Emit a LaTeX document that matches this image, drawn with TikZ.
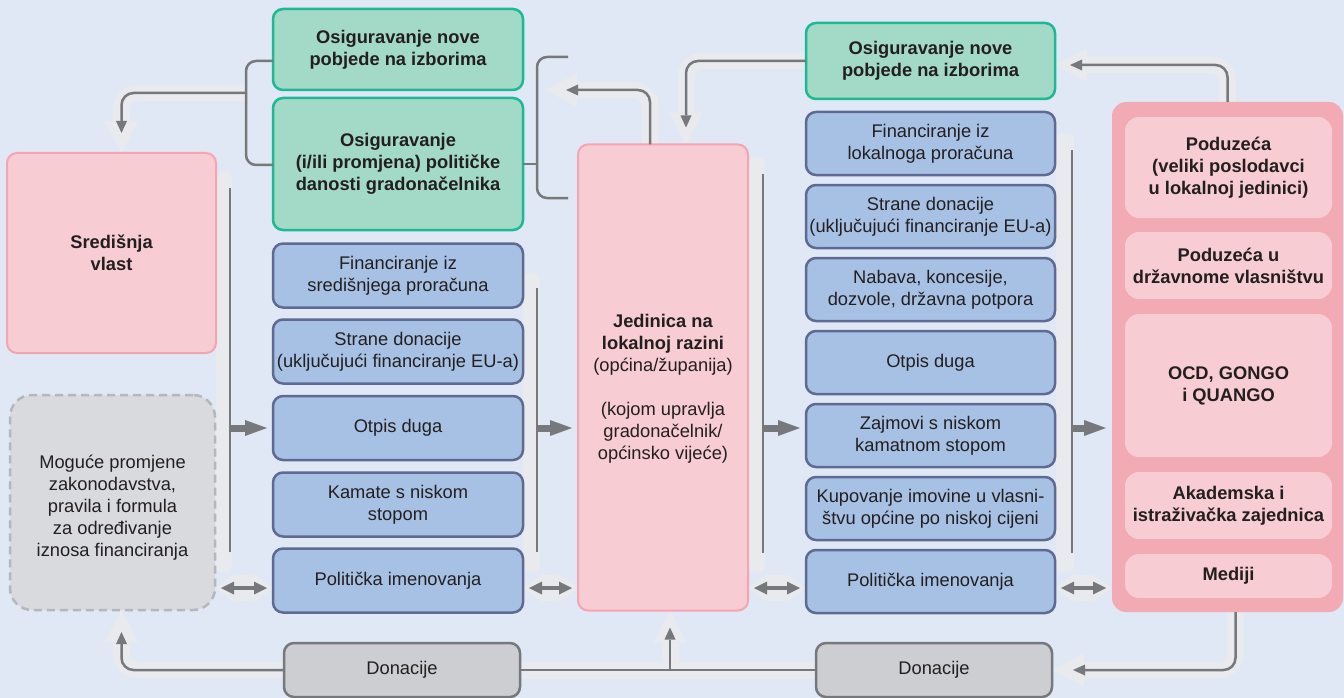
\documentclass[tikz,border=0pt]{standalone}
\usepackage{fontspec}
\setmainfont{Liberation Sans}
\usetikzlibrary{arrows.meta,calc,backgrounds}
\definecolor{bgc}{HTML}{DFE8F4}
\definecolor{haloc}{HTML}{E9EAED}
\definecolor{darkc}{HTML}{77787B}
\definecolor{greenf}{HTML}{A3D9C7}
\definecolor{greend}{HTML}{1DB894}
\definecolor{bluef}{HTML}{A7C1E4}
\definecolor{blued}{HTML}{5F6A93}
\definecolor{pinkf}{HTML}{F7CCD3}
\definecolor{pinkd}{HTML}{F4A5B1}
\definecolor{graybf}{HTML}{D9DADE}
\definecolor{graybd}{HTML}{B4B7BD}
\definecolor{donf}{HTML}{CDCED2}
\definecolor{contf}{HTML}{F2AAB5}
\definecolor{txt}{HTML}{231F20}
\begin{document}
\begin{tikzpicture}[x=1pt,y=-1pt,
  every node/.style={font=\fontsize{18.3}{22}\selectfont, text=txt, align=center,
    inner sep=0pt, outer sep=0pt},
  boldtext/.style={font=\fontsize{18.3}{22}\selectfont\bfseries},
  box/.style={rectangle, rounded corners=10pt, line width=2.5pt},
  greenbox/.style={box, boldtext, fill=greenf, draw=greend, minimum width=250pt},
  bluebox/.style={box, fill=bluef, draw=blued, minimum width=250pt, minimum height=64pt},
  blueboxd/.style={box, fill=bluef, draw=blued, minimum width=249pt, minimum height=63pt},
  pinkbox/.style={box, fill=pinkf, draw=pinkd, line width=2pt},
  dashbox/.style={box, rounded corners=22pt, fill=graybf, draw=graybd,
    dash pattern=on 8pt off 5pt},
  donbox/.style={box, fill=donf, draw=darkc, minimum width=236pt, minimum height=54pt},
  contbox/.style={rectangle, rounded corners=14pt, fill=contf},
  innerbox/.style={rectangle, rounded corners=14pt, fill=pinkf, boldtext, minimum width=207pt},
  conn/.style={draw=darkc, line width=2.5pt, rounded corners=12pt},
  connarrow/.style={conn, -{Triangle[length=12pt,width=11pt,line width=0pt]}},
  halo/.style={draw=haloc, line width=17pt, rounded corners=16pt},
  haloarrow/.style={halo, -{Triangle[length=32pt,width=34pt,line width=0pt]}},
  bigarrow/.style={draw=darkc, line width=7pt, shorten >=6pt,
    -{Triangle[length=22pt,width=16pt,line width=0pt]}},
  dblarrow/.style={draw=darkc, line width=4pt, shorten <=6pt, shorten >=6pt,
    {Triangle[length=13pt,width=13pt,line width=0pt]}-{Triangle[length=13pt,width=13pt,line width=0pt]}},
  dblhalo/.style={draw=haloc, line width=26pt,
    {Triangle[length=19pt,width=28pt,line width=0pt]}-{Triangle[length=19pt,width=28pt,line width=0pt]}},
  flowbar/.style={fill=haloc, rounded corners=6pt},
  flowline/.style={draw=darkc, line width=2.5pt}
]
\useasboundingbox (0,0) rectangle (1344,698);

% ---- nodes ----
\node[pinkbox, boldtext, minimum width=209pt, minimum height=200pt] (sred) at (111.5,253) {Središnja\\vlast};
\node[dashbox, minimum width=205pt, minimum height=215pt] (dash) at (112.5,502.5) {};
\node (dashtxt) at ($(dash.center)+(0,5)$)
  {Moguće promjene\\zakonodavstva,\\pravila i formula\\za određivanje\\iznosa financiranja};

\node[greenbox, minimum height=81pt] (g1) at (398,49.5) {Osiguravanje nove\\pobjede na izborima};
\node[greenbox, minimum height=132pt] (g2) at (398,164) {Osiguravanje\\(i/ili promjena) političke\\danosti gradonačelnika};
\node[bluebox] (b1) at (398,275.5) {Financiranje iz\\središnjega proračuna};
\node[bluebox] (b2) at (398,351.5) {Strane donacije\\(uključujući financiranje EU-a)};
\node[bluebox] (b3) at (398,428) {Otpis duga};
\node[bluebox] (b4) at (398,504.5) {Kamate s niskom\\stopom};
\node[bluebox] (b5) at (398,580.5) {Politička imenovanja};

\node[pinkbox, minimum width=170pt, minimum height=466pt] (jed) at (663,377.5) {};
\node (jedtxt) at ($(jed.center)+(0,11)$)
  {\textbf{Jedinica na}\\\textbf{lokalnoj razini}\\(općina/županija)\\[22pt](kojom upravlja\\gradonačelnik/\\općinsko vijeće)};

\node[greenbox, minimum width=249pt, minimum height=76pt] (gD) at (930.5,61) {Osiguravanje nove\\pobjede na izborima};
\node[blueboxd] (d1) at (930.5,143.5) {Financiranje iz\\lokalnoga proračuna};
\node[blueboxd] (d2) at (930.5,216.5) {Strane donacije\\(uključujući financiranje EU-a)};
\node[blueboxd] (d3) at (930.5,289.5) {Nabava, koncesije,\\dozvole, državna potpora};
\node[blueboxd] (d4) at (930.5,362.5) {Otpis duga};
\node[blueboxd] (d5) at (930.5,435.5) {Zajmovi s niskom\\kamatnom stopom};
\node[blueboxd] (d6) at (930.5,508.5) {Kupovanje imovine u vlasni-\\štvu općine po niskoj cijeni};
\node[blueboxd] (d7) at (930.5,581.5) {Politička imenovanja};

\node[contbox, minimum width=231pt, minimum height=510pt] (cont) at (1227.5,357) {};
\node[innerbox, minimum height=101pt] (p1) at (1228.5,167.5) {Poduzeća\\(veliki poslodavci\\u lokalnoj jedinici)};
\node[innerbox, minimum height=67pt] (p2) at (1228.5,265.5) {Poduzeća u\\državnome vlasništvu};
\node[innerbox, minimum height=143pt] (p3) at (1228.5,385.5) {OCD, GONGO\\i QUANGO};
\node[innerbox, minimum height=67pt] (p4) at (1228.5,505.5) {Akademska i\\istraživačka zajednica};
\node[innerbox, minimum height=44pt] (p5) at (1228.5,576) {Mediji};

\node[donbox] (don1) at (402,670) {Donacije};
\node[donbox] (don2) at (934,670) {Donacije};

% ---- helper coordinates ----
\coordinate (lineA) at (230,0);
\coordinate (lineB) at (537,0);
\coordinate (lineC) at (763,0);
\coordinate (lineD) at (1072,0);
\coordinate (brLx) at (246,0);
\coordinate (brRx) at (537,0);
\coordinate (dy) at (0,588);
\coordinate (brLsplit) at (246,93);
\coordinate (brRtip) at (545,90);
\coordinate (jedTopL) at ($(jed.north)+(-13,0)$);
\coordinate (jedTopR) at ($(jed.north)+(23,0)$);
\coordinate (jedBot) at ($(jed.south)+(7,0)$);
\coordinate (sredTop) at ($(sred.north)+(10,0)$);
\coordinate (dashBot) at ($(dash.south)+(9,0)$);
\coordinate (contBot) at ($(cont.south)+(8,0)$);
\coordinate (gDin) at ($(gD.east)+(0,4)$);

% ---- light bands under the connectors ----
\begin{pgfonlayer}{background}
  \fill[bgc] (0,0) rectangle (1344,698);
  \path[flowbar] (216,172) rectangle (232,572);
  \path[flowbar] (523,273) rectangle (540,572);
  \path[flowbar] (749,157) rectangle (765,572);
  \path[flowbar] (1056,133) rectangle (1074,572);

  \draw[haloarrow] (brLsplit) -| (sredTop);
  \draw[haloarrow] (jedTopL) |- (brRtip);
  \draw[haloarrow] (gD.west) -| (jedTopR);
  \draw[haloarrow] (cont.north) |- (gDin);
  \draw[haloarrow] (contBot) |- (don2.east);
  \draw[haloarrow] (don1.west) -| (dashBot);
  \draw[halo] (don1.east) -- (don2.west);
  \draw[haloarrow, rounded corners=0pt] (jedBot |- don1.east) -- (jedBot);

  \draw[dblhalo] (dash.east |- dy) -- (b5.west |- dy);
  \draw[dblhalo] (b5.east |- dy) -- (jed.west |- dy);
  \draw[dblhalo] (jed.east |- dy) -- (d7.west |- dy);
  \draw[dblhalo] (d7.east |- dy) -- (cont.west |- dy);
\end{pgfonlayer}

% ---- flow lines beside the lists ----
\draw[flowline] (230,188) -- (230,552);
\draw[flowline] (537,288) -- (537,552);
\draw[flowline] (763,174) -- (763,553);
\draw[flowline] (1072,150) -- (1072,553);

% ---- brackets round the election boxes ----
\draw[conn, rounded corners=10pt] ($(g1.west)+(0,11.5)$) -| (brLx |- 0,165) -- ($(g2.west)+(0,1)$);
\draw[conn, rounded corners=10pt] (568,57) -| (brRx |- 0,198) -- (568,198);
\draw[conn] (g2.east) -- (g2.east -| brRx);

% ---- connectors ----
\draw[connarrow, shorten >=20pt] (brLsplit) -| (sredTop);
\draw[connarrow, shorten >=21pt] (jedTopL) |- (brRtip);
\draw[connarrow, shorten >=17pt] (gD.west) -| (jedTopR);
\draw[connarrow, shorten >=15pt] (cont.north) |- (gDin);
\draw[connarrow, shorten >=21pt] (contBot) |- (don2.east);
\draw[connarrow, shorten >=22pt] (don1.west) -| (dashBot);
\draw[conn] (don1.east) -- (don2.west);
\draw[connarrow, rounded corners=0pt, shorten >=17pt] (jedBot |- don1.east) -- (jedBot);

% ---- flow arrows into the next column ----
\draw[bigarrow] (lineA |- b3.west) -- (b3.west);
\draw[bigarrow] (lineB |- b3.west) -- (jed.west |- b3.west);
\draw[bigarrow] (lineC |- b3.west) -- (d1.west |- b3.west);
\draw[bigarrow] (lineD |- b3.west) -- (cont.west |- b3.west);

% ---- two-way links ----
\draw[dblarrow] (dash.east |- dy) -- (b5.west |- dy);
\draw[dblarrow] (b5.east |- dy) -- (jed.west |- dy);
\draw[dblarrow] (jed.east |- dy) -- (d7.west |- dy);
\draw[dblarrow] (d7.east |- dy) -- (cont.west |- dy);
\end{tikzpicture}
\end{document}
